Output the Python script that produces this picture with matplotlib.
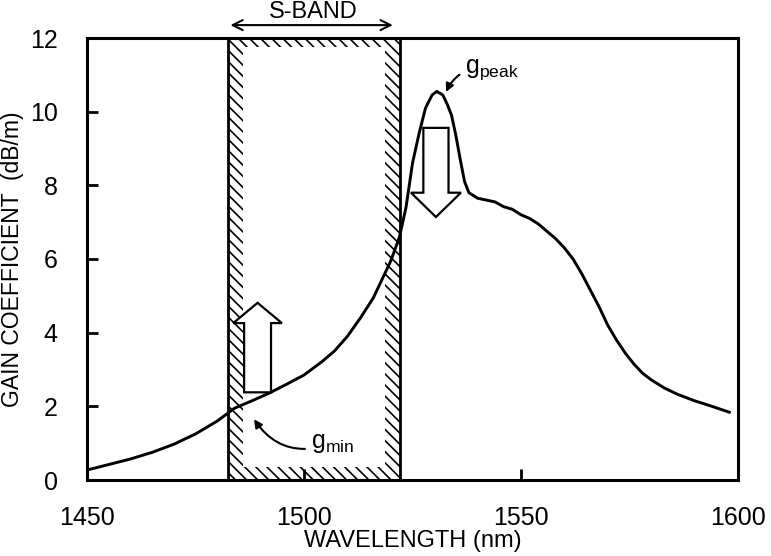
import matplotlib
matplotlib.use("Agg")
import matplotlib.pyplot as plt
from matplotlib.patches import Rectangle, FancyArrow
from matplotlib import font_manager

fams = {f.name for f in font_manager.fontManager.ttflist}
main_font = 'Liberation Sans' if 'Liberation Sans' in fams else 'DejaVu Sans'
plt.rcParams['font.family'] = [main_font, 'DejaVu Sans']
plt.rcParams['mathtext.fontset'] = 'custom'
plt.rcParams['mathtext.rm'] = main_font
plt.rcParams['hatch.linewidth'] = 1.2

# ---- data ----
wavelength = [1450, 1455, 1460, 1465, 1470, 1475, 1480, 1484, 1488, 1492, 1496, 1500,
              1504, 1507, 1510, 1513, 1516, 1518, 1520, 1522, 1523.5, 1525, 1526.5,
              1528, 1529.5, 1530.6, 1532, 1533, 1534, 1535, 1536, 1537, 1538, 1540,
              1542, 1544, 1546, 1548, 1550, 1552, 1554, 1556, 1558, 1560, 1562, 1564,
              1566, 1568, 1570, 1572, 1574, 1576, 1578, 1580, 1583, 1586, 1590, 1594, 1598]
gain = [0.27, 0.42, 0.57, 0.75, 0.97, 1.25, 1.60, 1.95, 2.15, 2.36, 2.60, 2.85,
        3.20, 3.50, 3.90, 4.40, 4.95, 5.45, 5.95, 6.60, 7.40, 8.60, 9.40,
        10.10, 10.45, 10.55, 10.45, 10.20, 9.90, 9.35, 8.70, 8.10, 7.80, 7.65,
        7.60, 7.55, 7.42, 7.35, 7.20, 7.10, 6.95, 6.75, 6.55, 6.30, 6.00, 5.60,
        5.15, 4.70, 4.20, 3.80, 3.45, 3.15, 2.90, 2.72, 2.50, 2.33, 2.15, 2.00, 1.84]
sband = [1482.4, 1522.1]
xticks = [1450, 1500, 1550, 1600]
yticks = [0, 2, 4, 6, 8, 10, 12]

fig = plt.figure(figsize=(7.71, 5.56), dpi=100)
ax = fig.add_axes([87/771, 1-480/556, (738-87)/771, (480-38)/556])
ax.set_xlim(1450, 1600)
ax.set_ylim(0, 12)

for s in ax.spines.values():
    s.set_linewidth(2.2)

ax.set_xticks(xticks)
ax.set_yticks(yticks)
ax.tick_params(direction='in', length=8, width=2, labelsize=18)
ax.tick_params(axis='x', pad=19)
ax.tick_params(axis='y', pad=21)
ax.set_xlabel('WAVELENGTH (nm)', fontsize=17, labelpad=0)
ax.set_ylabel('GAIN COEFFICIENT  (dB/m)', fontsize=16.5, labelpad=4)

# S-band hatched frame
x0, x1 = sband
bw = 3.5
ax.add_patch(Rectangle((x0, 0), bw, 12, facecolor='none', edgecolor='black',
                       hatch='\\\\\\', linewidth=0, zorder=1))
ax.add_patch(Rectangle((x1 - bw, 0), bw, 12, facecolor='none', edgecolor='black',
                       hatch='\\\\\\', linewidth=0, zorder=1))
ax.add_patch(Rectangle((x0 + bw, 11.75), x1 - x0 - 2*bw, 0.25, facecolor='none',
                       edgecolor='black', hatch='\\\\\\', linewidth=0, zorder=1))
ax.add_patch(Rectangle((x0 + bw, 0), x1 - x0 - 2*bw, 0.35, facecolor='none',
                       edgecolor='black', hatch='\\\\\\', linewidth=0, zorder=1))
ax.axvline(x0, color='black', lw=2, zorder=2)
ax.axvline(x1, color='black', lw=2, zorder=2)

# gain curve
ax.plot(wavelength, gain, color='black', lw=2.1, zorder=4)

# hollow arrows
ax.add_patch(FancyArrow(1489.3, 2.38, 0, 2.43, width=6.2, head_width=11.2,
                        head_length=0.55, length_includes_head=True,
                        facecolor='white', edgecolor='black', lw=1.6, zorder=3))
ax.add_patch(FancyArrow(1530.4, 9.56, 0, -2.42, width=5.8, head_width=11.5,
                        head_length=0.66, length_includes_head=True,
                        facecolor='white', edgecolor='black', lw=1.6, zorder=5))

# S-BAND label with double arrow
ax.annotate('', xy=(x0, 12.35), xytext=(x1 - 1.0, 12.35),
            arrowprops=dict(arrowstyle='<->', lw=1.5, color='black',
                            mutation_scale=18),
            annotation_clip=False)
ax.text((x0 + x1) / 2, 12.55, 'S-BAND', ha='center', va='baseline', fontsize=17,
        clip_on=False)

# g_peak / g_min annotations
ax.annotate(r'$\mathrm{g}_{\mathrm{peak}}$', xy=(1532.6, 10.5), xytext=(1537.0, 11.15),
            fontsize=18, ha='left', va='center',
            arrowprops=dict(arrowstyle='-|>', lw=1.5, color='black',
                            connectionstyle='arc3,rad=0.4', mutation_scale=12,
                            shrinkA=2, shrinkB=1))
ax.annotate(r'$\mathrm{g}_{\mathrm{min}}$', xy=(1488.3, 1.68), xytext=(1501.5, 1.0),
            fontsize=18, ha='left', va='center',
            arrowprops=dict(arrowstyle='-|>', lw=1.5, color='black',
                            connectionstyle='arc3,rad=-0.4', mutation_scale=12,
                            shrinkA=2, shrinkB=1))

fig.savefig('out.png', dpi=100)
